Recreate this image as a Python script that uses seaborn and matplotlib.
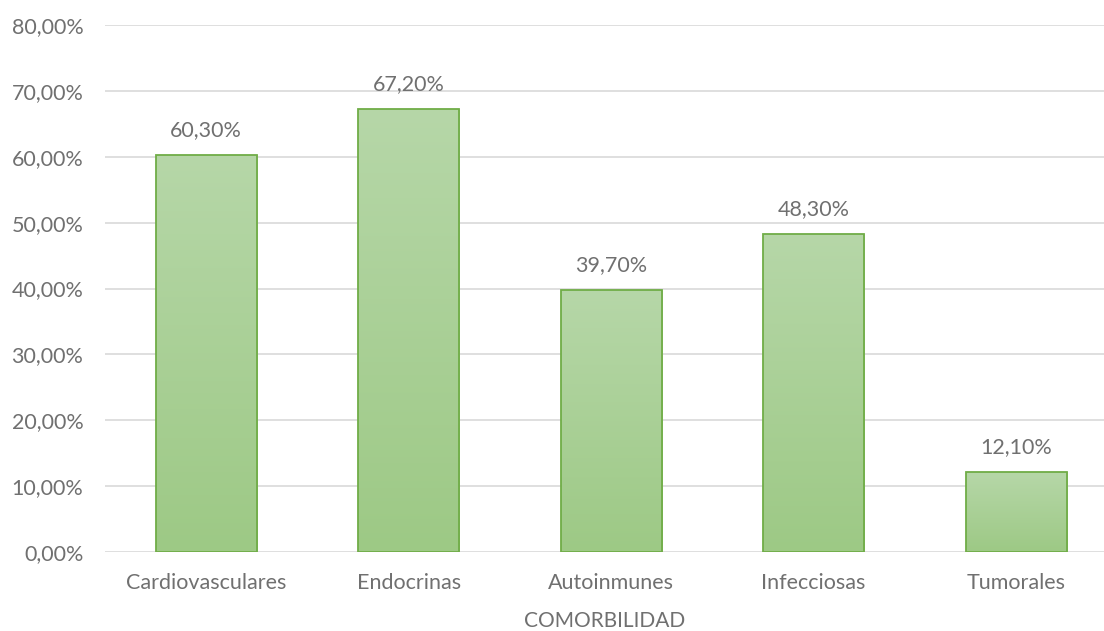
import numpy as np
import pandas as pd
import matplotlib
matplotlib.use("Agg")
import matplotlib.pyplot as plt
import seaborn as sns
from matplotlib.ticker import FuncFormatter
from matplotlib.colors import LinearSegmentedColormap

categories = ["Cardiovasculares", "Endocrinas", "Autoinmunes", "Infecciosas", "Tumorales"]
values = [60.3, 67.2, 39.7, 48.3, 12.1]
xlabel = "COMORBILIDAD"

df = pd.DataFrame({"cat": categories, "val": values})

sns.set_theme(style="white")
plt.rcParams["font.family"] = ["Lato", "DejaVu Sans"]
text_color = "#707070"
fs = 15.5

fig = plt.figure(figsize=(11.04, 6.31), dpi=100)
ax = fig.add_axes([105/1104, 1-552/631, 1-105/1104, (552-25)/631])

sns.barplot(data=df, x="cat", y="val", ax=ax, width=0.5,
            color="#A9D08E", edgecolor="#70AD47", linewidth=1.3, zorder=3)

# gradient fill
grad = np.linspace(0, 1, 256).reshape(-1, 1)
cmap = LinearSegmentedColormap.from_list("g", ["#9DC985", "#B6D7A8"])
for p in ax.patches:
    x0, y0 = p.get_x(), p.get_y()
    w, h = p.get_width(), p.get_height()
    p.set_facecolor("none")
    im = ax.imshow(grad, extent=[x0, x0 + w, y0, y0 + h], origin="lower",
                   cmap=cmap, aspect="auto", zorder=2.5)
    im.set_clip_path(p)
ax.set_xlim(-0.5, 4.434)
ax.set_ylim(0, 80)

for i, v in enumerate(values):
    ax.text(i, v + 2.3, f"{v:.2f}".replace(".", ",") + "%", ha="center", va="bottom",
            fontsize=fs, color=text_color)

ax.set_yticks(np.arange(0, 81, 10))
ax.yaxis.set_major_formatter(FuncFormatter(lambda y, _: f"{y:.2f}".replace(".", ",") + "%"))
ax.grid(axis="y", color="#D9D9D9", linewidth=1.2, zorder=0)
ax.set_axisbelow(True)
for s in ax.spines.values():
    s.set_visible(False)
ax.tick_params(axis="both", length=0, labelsize=fs, labelcolor=text_color)
ax.tick_params(axis="x", pad=15)
ax.tick_params(axis="y", pad=15.5)
ax.set_xlabel(xlabel, fontsize=fs - 0.5, color=text_color, labelpad=13)
ax.set_ylabel("")

fig.savefig("out.png", dpi=100)
